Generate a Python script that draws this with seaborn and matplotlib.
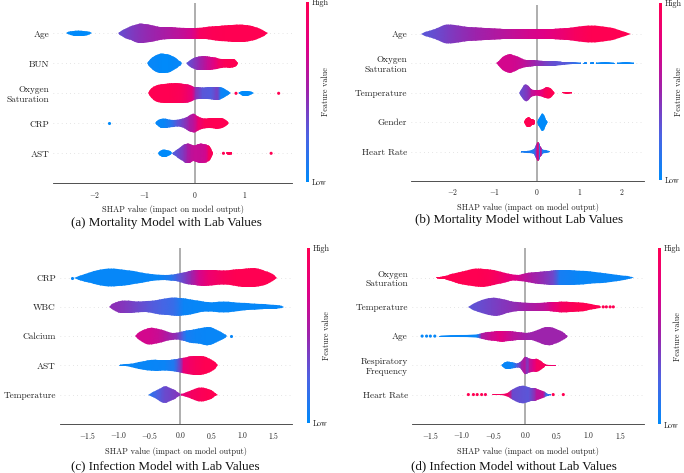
import numpy as np
import matplotlib
matplotlib.use("Agg")
import matplotlib.pyplot as plt
import seaborn as sns
from matplotlib.path import Path
from matplotlib.patches import PathPatch
from matplotlib.ticker import FuncFormatter
from matplotlib.colors import Normalize
from matplotlib.cm import ScalarMappable

# violin knots:
# (shap value, half width as a share of the widest violin, feature value 0..1)

# ---- (a) Mortality Model with Lab Values ----
a_names = ["Age", "BUN", "Oxygen\nSaturation", "CRP", "AST"]
a_age = [
    [(-2.57, 0, 0.0), (-2.48, 0.22, 0.0), (-2.32, 0.3, 0.0), (-2.15, 0.24, 0.0), (-2.04, 0, 0.0)],
    [(-1.54, 0, 0.33), (-1.45, 0.3, 0.35), (-1.35, 0.55, 0.38), (-1.2, 0.85, 0.42), (-1.08, 1.0, 0.45),
     (-0.95, 0.92, 0.48), (-0.8, 0.75, 0.5), (-0.6, 0.6, 0.55), (-0.3, 0.56, 0.62), (-0.05, 0.53, 0.72),
     (0.1, 0.56, 0.93), (0.35, 0.68, 0.98), (0.6, 0.8, 1.0), (0.9, 0.88, 1.0), (1.1, 0.8, 1.0),
     (1.3, 0.5, 1.0), (1.45, 0, 1.0)],
]
a_bun = [
    [(-0.95, 0, 0.02), (-0.88, 0.5, 0.02), (-0.78, 0.85, 0.02), (-0.66, 1.0, 0.0), (-0.52, 0.95, 0.0),
     (-0.4, 0.6, 0.02), (-0.31, 0.25, 0.02), (-0.26, 0, 0.02)],
    [(-0.17, 0, 0.3), (-0.1, 0.35, 0.35), (0.0, 0.6, 0.42), (0.1, 0.7, 0.5), (0.25, 0.68, 0.65),
     (0.4, 0.62, 0.8), (0.48, 0.45, 0.9), (0.6, 0.42, 0.97), (0.75, 0.45, 1.0), (0.82, 0.35, 1.0),
     (0.87, 0, 1.0)],
]
a_oxy = [
    [(-0.94, 0, 1.0), (-0.86, 0.6, 1.0), (-0.72, 0.93, 1.0), (-0.5, 1.0, 1.0), (-0.3, 1.0, 0.97),
     (-0.15, 0.93, 0.88), (-0.05, 0.75, 0.8), (0.02, 0.6, 0.45), (0.15, 0.57, 0.3), (0.33, 0.6, 0.28),
     (0.45, 0.67, 0.4), (0.52, 0.6, 0.05), (0.6, 0.4, 0.03), (0.72, 0, 0.02)],
    [(0.86, 0, 0.0), (0.92, 0.2, 0.0), (1.0, 0.27, 0.0), (1.1, 0.2, 0.0), (1.17, 0, 0.0)],
]
a_crp = [
    [(-0.8, 0, 0.02), (-0.72, 0.4, 0.02), (-0.62, 0.5, 0.03), (-0.5, 0.35, 0.1), (-0.35, 0.3, 0.3),
     (-0.2, 0.5, 0.42), (-0.1, 0.83, 0.55), (-0.02, 1.0, 0.62), (0.07, 0.67, 0.85), (0.2, 0.47, 0.97),
     (0.38, 0.5, 1.0), (0.48, 0.57, 1.0), (0.6, 0.42, 1.0), (0.69, 0, 1.0)],
]
a_ast = [
    [(-0.74, 0, 0.0), (-0.68, 0.3, 0.0), (-0.61, 0.4, 0.0), (-0.53, 0.3, 0.0), (-0.46, 0.08, 0.0)],
    [(-0.46, 0.05, 0.25), (-0.38, 0.3, 0.3), (-0.28, 0.65, 0.38), (-0.2, 0.95, 0.45), (-0.14, 1.0, 0.55),
     (-0.07, 0.85, 0.62), (0.0, 0.75, 0.65), (0.06, 0.9, 0.65), (0.12, 1.0, 0.66), (0.22, 0.93, 0.7),
     (0.28, 0.8, 0.92), (0.33, 0.5, 0.97), (0.37, 0, 1.0)],
    [(0.63, 0, 1.0), (0.64, 0.17, 1.0), (0.74, 0.17, 1.0), (0.75, 0, 1.0)],
]
a_violins = [a_age, a_bun, a_oxy, a_crp, a_ast]
a_dots = [[], [], [(0.82, 1.0), (1.67, 1.0)], [(-1.71, 0.0)], [(0.57, 1.0), (1.52, 1.0)]]

# ---- (b) Mortality Model without Lab Values ----
b_names = ["Age", "Oxygen\nSaturation", "Temperature", "Gender", "Heart Rate"]
b_age = [
    [(-2.74, 0, 0.3), (-2.55, 0.33, 0.32), (-2.3, 0.75, 0.36), (-2.1, 1.0, 0.4), (-1.8, 0.85, 0.45),
     (-1.45, 0.67, 0.5), (-1.0, 0.57, 0.57), (-0.6, 0.53, 0.63), (-0.2, 0.55, 0.7), (0.2, 0.53, 0.76),
     (0.55, 0.57, 0.83), (0.9, 0.72, 0.93), (1.3, 0.9, 1.0), (1.65, 0.75, 1.0), (1.95, 0.45, 1.0),
     (2.23, 0, 1.0)],
]
b_oxy = [
    [(-0.96, 0, 0.7), (-0.85, 0.55, 0.7), (-0.72, 0.9, 0.7), (-0.62, 0.97, 0.7), (-0.5, 0.78, 0.68),
     (-0.35, 0.45, 0.65), (-0.15, 0.33, 0.55), (0.0, 0.3, 0.48), (0.3, 0.27, 0.35), (0.55, 0.2, 0.3),
     (0.65, 0.12, 0.3), (1.03, 0.1, 0.1), (1.04, 0, 0.1)],
    [(1.1, 0, 0.05), (1.11, 0.1, 0.05), (1.18, 0.1, 0.05), (1.19, 0, 0.05)],
    [(1.26, 0, 0.03), (1.27, 0.1, 0.03), (1.34, 0.1, 0.03), (1.35, 0, 0.03)],
    [(1.4, 0, 0.02), (1.41, 0.1, 0.02), (1.83, 0.1, 0.02), (1.84, 0, 0.02)],
    [(1.9, 0, 0.02), (1.91, 0.1, 0.02), (2.3, 0.1, 0.02), (2.31, 0, 0.02)],
]
b_temp = [
    [(-0.42, 0, 0.33), (-0.34, 0.6, 0.36), (-0.27, 0.93, 0.4), (-0.2, 0.7, 0.45), (-0.13, 0.3, 0.62),
     (0.0, 0.27, 0.72), (0.1, 0.33, 0.8), (0.18, 0.5, 0.92), (0.27, 0.63, 0.97), (0.35, 0.38, 1.0),
     (0.42, 0, 1.0)],
    [(0.6, 0, 1.0), (0.61, 0.1, 1.0), (0.83, 0.1, 1.0), (0.84, 0, 1.0)],
]
b_gender = [
    [(-0.31, 0, 1.0), (-0.27, 0.4, 1.0), (-0.22, 0.53, 1.0), (-0.17, 0.45, 1.0), (-0.13, 0.28, 1.0),
     (-0.09, 0.3, 1.0), (-0.06, 0.2, 1.0), (-0.04, 0, 1.0)],
    [(0.01, 0, 0.0), (0.06, 0.5, 0.0), (0.13, 1.0, 0.0), (0.19, 0.5, 0.0), (0.25, 0, 0.0)],
]
b_heart = [
    [(-0.38, 0, 0.08), (-0.37, 0.1, 0.08), (-0.1, 0.12, 0.1), (-0.05, 0.4, 0.2), (0.0, 0.9, 0.6),
     (0.03, 1.0, 0.9), (0.06, 0.7, 0.05), (0.09, 0.45, 0.7), (0.13, 0.15, 0.1), (0.29, 0.1, 0.05),
     (0.3, 0, 0.05)],
]
b_violins = [b_age, b_oxy, b_temp, b_gender, b_heart]
b_dots = [[], [], [], [], []]

# ---- (c) Infection Model with Lab Values ----
c_names = ["CRP", "WBC", "Calcium", "AST", "Temperature"]
c_crp = [
    [(-1.72, 0, 0.02), (-1.55, 0.4, 0.02), (-1.35, 0.75, 0.02), (-1.12, 0.95, 0.02), (-0.9, 0.82, 0.02),
     (-0.62, 0.5, 0.02), (-0.35, 0.28, 0.03), (-0.15, 0.3, 0.12), (0.0, 0.47, 0.32), (0.18, 0.77, 0.5),
     (0.3, 0.83, 0.7), (0.45, 0.83, 0.85), (0.7, 0.68, 0.95), (0.9, 0.85, 1.0), (1.1, 1.0, 1.0),
     (1.3, 0.9, 1.0), (1.45, 0.55, 1.0), (1.57, 0, 1.0)],
]
c_wbc = [
    [(-1.16, 0, 0.45), (-1.05, 0.5, 0.45), (-0.9, 0.67, 0.42), (-0.68, 0.5, 0.35), (-0.45, 0.65, 0.28),
     (-0.3, 0.8, 0.24), (-0.1, 0.97, 0.18), (0.05, 0.88, 0.04), (0.2, 0.72, 0.03), (0.45, 0.4, 0.02),
     (0.7, 0.6, 0.02), (0.95, 0.42, 0.02), (1.2, 0.3, 0.02), (1.5, 0.2, 0.02), (1.6, 0.15, 0.02),
     (1.67, 0, 0.02)],
]
c_calcium = [
    [(-0.74, 0, 0.7), (-0.62, 0.6, 0.7), (-0.5, 0.95, 0.7), (-0.35, 0.75, 0.66), (-0.2, 0.4, 0.55),
     (-0.06, 0.33, 0.45), (0.05, 0.5, 0.2), (0.1, 0.6, 0.08), (0.25, 0.73, 0.04), (0.42, 0.97, 0.03),
     (0.5, 0.9, 0.03), (0.62, 0.55, 0.03), (0.7, 0.25, 0.03), (0.76, 0, 0.03)],
]
c_ast = [
    [(-0.99, 0, 0.03), (-0.97, 0.1, 0.03), (-0.8, 0.12, 0.03), (-0.68, 0.33, 0.03), (-0.47, 0.6, 0.03),
     (-0.25, 0.5, 0.04), (-0.1, 0.6, 0.12), (0.0, 0.72, 0.4), (0.05, 0.8, 0.82), (0.15, 0.92, 0.9),
     (0.25, 0.97, 0.95), (0.4, 0.93, 1.0), (0.5, 0.65, 1.0), (0.61, 0, 1.0)],
]
c_temp = [
    [(-0.52, 0, 0.12), (-0.38, 0.5, 0.25), (-0.25, 0.95, 0.35), (-0.14, 0.6, 0.38), (-0.05, 0.25, 0.42),
     (0.01, 0, 0.45)],
    [(0.01, 0, 0.8), (0.02, 0.1, 0.8), (0.18, 0.5, 0.92), (0.34, 0.8, 0.97), (0.45, 0.6, 1.0),
     (0.53, 0.33, 1.0), (0.6, 0, 1.0)],
]
c_violins = [c_crp, c_wbc, c_calcium, c_ast, c_temp]
c_dots = [[(-1.76, 0.02)], [], [(0.82, 0.03)], [], []]

# ---- (d) Infection Model without Lab Values ----
d_names = ["Oxygen\nSaturation", "Temperature", "Age", "Respiratory\nFrequency", "Heart Rate"]
d_oxy = [
    [(-1.41, 0, 1.0), (-1.39, 0.1, 1.0), (-1.3, 0.12, 1.0), (-1.25, 0.2, 1.0), (-1.1, 0.5, 1.0),
     (-0.95, 0.73, 1.0), (-0.74, 0.97, 1.0), (-0.55, 0.87, 0.97), (-0.32, 0.5, 0.85), (-0.16, 0.27, 0.75),
     (-0.05, 0.33, 0.65), (0.1, 0.57, 0.55), (0.3, 0.67, 0.45), (0.45, 0.75, 0.35), (0.55, 0.8, 0.08),
     (0.85, 0.73, 0.03), (1.1, 0.6, 0.03), (1.36, 0.4, 0.03), (1.58, 0.2, 0.03), (1.65, 0.1, 0.03),
     (1.71, 0, 0.03)],
]
d_temp = [
    [(-0.91, 0, 0.3), (-0.75, 0.57, 0.33), (-0.53, 0.97, 0.38), (-0.37, 0.83, 0.42), (-0.22, 0.5, 0.45),
     (0.0, 0.4, 0.52), (0.3, 0.4, 0.62), (0.45, 0.5, 0.8), (0.57, 0.6, 0.92), (0.84, 0.5, 1.0),
     (1.05, 0.27, 1.0), (1.15, 0.15, 1.0), (1.2, 0, 1.0)],
]
d_age = [
    [(-1.36, 0, 0.02), (-1.35, 0.1, 0.02), (-0.76, 0.12, 0.02), (-0.69, 0.27, 0.55), (-0.53, 0.47, 0.68),
     (-0.4, 0.57, 0.78), (-0.3, 0.55, 0.7), (-0.2, 0.53, 0.62), (-0.06, 0.37, 0.55), (0.05, 0.35, 0.5),
     (0.15, 0.53, 0.5), (0.3, 0.9, 0.5), (0.4, 0.97, 0.5), (0.52, 0.67, 0.5), (0.62, 0.3, 0.5),
     (0.68, 0, 0.5)],
]
d_resp = [
    [(-0.38, 0, 0.03), (-0.33, 0.3, 0.03), (-0.28, 0.4, 0.03), (-0.2, 0.3, 0.05), (-0.12, 0.15, 0.3),
     (-0.06, 0.45, 0.5), (-0.01, 0.95, 0.6), (0.03, 0.85, 0.4), (0.07, 0.67, 0.62), (0.13, 0.6, 0.75),
     (0.18, 0.73, 0.9), (0.26, 0.4, 0.95), (0.31, 0.15, 0.95), (0.32, 0.08, 0.9), (0.48, 0.08, 0.85),
     (0.49, 0, 0.85)],
]
d_heart = [
    [(-0.52, 0, 0.95), (-0.51, 0.08, 0.95), (-0.27, 0.1, 0.9), (-0.2, 0.55, 0.35), (-0.06, 0.97, 0.32),
     (0.05, 0.75, 0.3), (0.12, 0.65, 0.4), (0.18, 0.6, 0.6), (0.28, 0.35, 0.65), (0.33, 0.12, 0.2),
     (0.4, 0.08, 0.1), (0.41, 0, 0.1)],
]
d_violins = [d_oxy, d_temp, d_age, d_resp, d_heart]
d_dots = [[], [(1.23, 1.0), (1.28, 1.0), (1.34, 1.0), (1.39, 1.0)],
          [(-1.63, 0.02), (-1.56, 0.02), (-1.5, 0.02), (-1.43, 0.02)], [],
          [(-0.9, 1.0), (-0.82, 1.0), (-0.76, 1.0), (-0.69, 1.0), (-0.63, 0.95), (0.44, 1.0), (0.6, 1.0)]]

captions = ["(a) Mortality Model with Lab Values", "(b) Mortality Model without Lab Values",
            "(c) Infection Model with Lab Values", "(d) Infection Model without Lab Values"]

sns.set_style("white")
plt.rcParams["font.family"] = "cmr10"
plt.rcParams["mathtext.fontset"] = "cm"
plt.rcParams["axes.unicode_minus"] = True

# shap's red_blue map
shap_cmap = sns.blend_palette(["#008afa", "#4b63e3", "#9c23ac", "#e00086", "#ff0052"], as_cmap=True)
MAXW = 1 / 3
TXT = "#222222"


def smooth_path(xs, lo, hi):
    pts = list(zip(xs, hi)) + list(zip(xs[::-1], lo[::-1]))
    n = len(pts)

    def mid(p, q):
        return ((p[0] + q[0]) / 2, (p[1] + q[1]) / 2)

    verts = [mid(pts[-1], pts[0])]
    codes = [Path.MOVETO]
    for i in range(n):
        verts += [pts[i], mid(pts[i], pts[(i + 1) % n])]
        codes += [Path.CURVE3, Path.CURVE3]
    verts.append(verts[0])
    codes.append(Path.CLOSEPOLY)
    return Path(verts, codes)


def draw_piece(ax, knots, pos):
    xs = np.array([k[0] for k in knots])
    ws = np.array([k[1] for k in knots]) * MAXW
    cs = np.array([k[2] for k in knots])
    patch = PathPatch(smooth_path(xs, pos - ws, pos + ws), transform=ax.transData,
                      facecolor="none", edgecolor="none")
    ax.add_patch(patch)
    X = np.vstack([xs, xs])
    Y = np.vstack([np.full(len(xs), pos - 0.5), np.full(len(xs), pos + 0.5)])
    C = np.vstack([cs, cs])
    mesh = ax.pcolormesh(X, Y, C, shading="gouraud", cmap=shap_cmap, vmin=0, vmax=1, zorder=2)
    mesh.set_clip_path(patch)


panels = [
    dict(names=a_names, violins=a_violins, dots=a_dots, xlim=(-2.82, 1.93), ticks=[-2, -1, 0, 1], fmt="{:.0f}",
         rect=[53.3, 3.3, 291.7, 183.3], cbar=[306, 1.7, 309, 181.7], cap=(166.7, 222.7)),
    dict(names=b_names, violins=b_violins, dots=b_dots, xlim=(-2.98, 2.53), ticks=[-2, -1, 0, 1, 2], fmt="{:.0f}",
         rect=[411.3, 4.6, 643.7, 181.0], cbar=[659, 2.7, 662, 180], cap=(519.5, 220.0)),
    dict(names=c_names, violins=c_violins, dots=c_dots, xlim=(-1.95, 1.80),
         ticks=[-1.5, -1.0, -0.5, 0.0, 0.5, 1.0, 1.5], fmt="{:.1f}",
         rect=[60.0, 248.4, 291.7, 423.8], cbar=[307, 247.7, 310, 422.7], cap=(165.8, 466.0)),
    dict(names=d_names, violins=d_violins, dots=d_dots, xlim=(-1.79, 1.87),
         ticks=[-1.5, -1.0, -0.5, 0.0, 0.5, 1.0, 1.5], fmt="{:.1f}",
         rect=[412.0, 248.4, 643.7, 423.8], cbar=[658, 248, 661, 424.3], cap=(513.7, 466.0)),
]

W, H = 684, 473
fig = plt.figure(figsize=(W / 100, H / 100), dpi=100)


def frac(r):
    x0, y0, x1, y1 = r
    return [x0 / W, 1 - y1 / H, (x1 - x0) / W, (y1 - y0) / H]


for k, p in enumerate(panels):
    ax = fig.add_axes(frac(p["rect"]))
    n = len(p["names"])
    for i, (pieces, dots) in enumerate(zip(p["violins"], p["dots"])):
        pos = n - 1 - i
        ax.axhline(pos, color="#cccccc", lw=0.5, dashes=(1, 5), zorder=-1)
        for knots in pieces:
            draw_piece(ax, knots, pos)
        if dots:
            sns.scatterplot(x=[d[0] for d in dots], y=[pos] * len(dots), hue=[d[1] for d in dots],
                            palette=shap_cmap, hue_norm=(0, 1), s=5, linewidth=0, legend=False,
                            ax=ax, zorder=3)
    ax.axvline(0, color="#999999", lw=1.1, zorder=1)
    ax.set_xlim(*p["xlim"])
    ax.set_ylim(-1, n)
    ax.set_yticks(range(n))
    ax.set_yticklabels(p["names"][::-1], fontsize=6.7, color=TXT)
    ax.set_xticks(p["ticks"])
    fmt = p["fmt"]
    ax.xaxis.set_major_formatter(FuncFormatter(lambda v, _, f=fmt: "$" + f.format(v) + "$"))
    ax.tick_params(axis="x", labelsize=5.5, length=2.5, width=0.5, color="#333333", labelcolor=TXT, pad=2)
    ax.tick_params(axis="y", length=0, pad=3)
    sns.despine(ax=ax, left=True, top=True, right=True)
    ax.spines["bottom"].set_color("#333333")
    ax.spines["bottom"].set_linewidth(0.6)
    ax.set_xlabel("SHAP value (impact on model output)", fontsize=6.0, color=TXT, labelpad=4)
    ax.patch.set_alpha(0)

    cax = fig.add_axes(frac(p["cbar"]))
    cb = fig.colorbar(ScalarMappable(norm=Normalize(0, 1), cmap=shap_cmap), cax=cax, ticks=[0, 1])
    cb.set_ticklabels(["Low", "High"])
    cb.ax.tick_params(labelsize=5.8, length=0, pad=2, labelcolor=TXT)
    cb.set_label("Feature value", size=5.8, labelpad=-5, color=TXT)
    cb.outline.set_visible(False)

    fig.text(p["cap"][0] / W, 1 - p["cap"][1] / H, captions[k], ha="center", va="center",
             fontsize=9.4, family="Liberation Serif", color="#111111")

fig.savefig("out.png", dpi=100)
